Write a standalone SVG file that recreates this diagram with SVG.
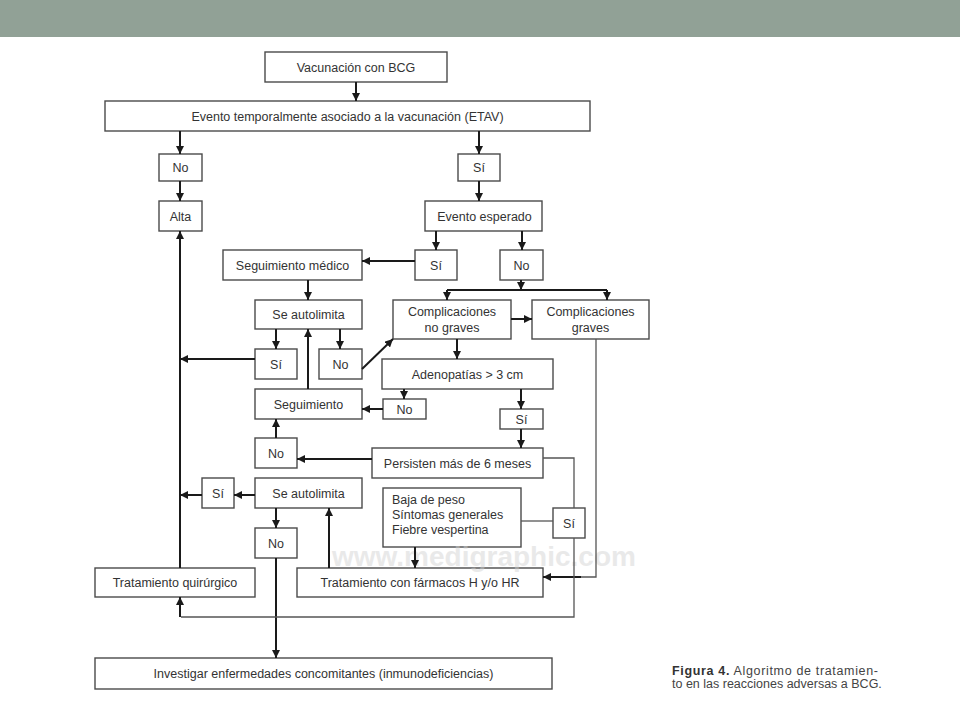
<svg xmlns="http://www.w3.org/2000/svg" width="960" height="720" viewBox="0 0 960 720">
<style>
.box{fill:#fff;stroke:#4a4a4a;stroke-width:1.4}
.t{font-family:"Liberation Sans",Arial,sans-serif;font-size:12.5px;fill:#333;text-anchor:middle}
.tl{font-family:"Liberation Sans",Arial,sans-serif;font-size:12.5px;fill:#333}
.a{stroke:#1a1a1a;stroke-width:2;fill:none;marker-end:url(#ah)}
.k{stroke:#1a1a1a;stroke-width:2;fill:none}
.l{stroke:#555;stroke-width:1.3;fill:none}
.cap{font-family:"Liberation Sans",Arial,sans-serif;font-size:12.5px;fill:#444}
.wm{font-family:"Liberation Sans",Arial,sans-serif;font-size:28px;font-weight:bold;fill:#d0d0d0;opacity:0.45}
</style>
<defs>
<marker id="ah" viewBox="0 0 10 10" refX="10" refY="5" markerWidth="8" markerHeight="8" markerUnits="userSpaceOnUse" orient="auto">
<path d="M0,0 L10,5 L0,10 z" fill="#1a1a1a"/>
</marker>
</defs>
<rect x="0" y="0" width="960" height="37" fill="#91a196"/>

<g id="n1"><rect class="box" x="265" y="52" width="182" height="30"/><text class="t" x="356" y="71.5">Vacunación con BCG</text></g>
<g id="n2"><rect class="box" x="105" y="101" width="485" height="30"/><text class="t" x="347.5" y="120.5">Evento temporalmente asociado a la vacunación (ETAV)</text></g>
<g id="n3"><rect class="box" x="159" y="154" width="43" height="27"/><text class="t" x="180.5" y="172">No</text></g>
<g id="n4"><rect class="box" x="159" y="201" width="43" height="30"/><text class="t" x="180.5" y="220.5">Alta</text></g>
<g id="n5"><rect class="box" x="458" y="154" width="42" height="27"/><text class="t" x="479" y="172">Sí</text></g>
<g id="n6"><rect class="box" x="425" y="201" width="117" height="30"/><text class="t" x="484.5" y="220.5">Evento esperado</text></g>
<g id="n7"><rect class="box" x="223" y="250" width="139" height="30"/><text class="t" x="292.5" y="269.5">Seguimiento médico</text></g>
<g id="n8"><rect class="box" x="415" y="250" width="42" height="30"/><text class="t" x="436" y="269.5">Sí</text></g>
<g id="n9"><rect class="box" x="500" y="250" width="43" height="30"/><text class="t" x="521.5" y="269.5">No</text></g>
<g id="n10"><rect class="box" x="255" y="300" width="107" height="29"/><text class="t" x="308.5" y="319">Se autolimita</text></g>
<g id="n11"><rect class="box" x="393" y="300" width="118" height="39"/><text class="t" x="452" y="315.5">Complicaciones</text><text class="t" x="452" y="331.5">no graves</text></g>
<g id="n12"><rect class="box" x="532" y="300" width="117" height="39"/><text class="t" x="590.5" y="315.5">Complicaciones</text><text class="t" x="590.5" y="331.5">graves</text></g>
<g id="n13"><rect class="box" x="255" y="349" width="42" height="30"/><text class="t" x="276" y="368.5">Sí</text></g>
<g id="n14"><rect class="box" x="319" y="349" width="43" height="30"/><text class="t" x="340.5" y="368.5">No</text></g>
<g id="n15"><rect class="box" x="382" y="359" width="171" height="30"/><text class="t" x="467.5" y="378.5">Adenopatías &gt; 3 cm</text></g>
<g id="n16"><rect class="box" x="255" y="389" width="107" height="30"/><text class="t" x="308.5" y="408.5">Seguimiento</text></g>
<g id="n17"><rect class="box" x="383" y="399" width="43" height="20"/><text class="t" x="404.5" y="413.5">No</text></g>
<g id="n18"><rect class="box" x="500" y="409" width="43" height="20"/><text class="t" x="521.5" y="423.5">Sí</text></g>
<g id="n19"><rect class="box" x="255" y="438" width="42" height="30"/><text class="t" x="276" y="457.5">No</text></g>
<g id="n20"><rect class="box" x="372" y="448" width="171" height="30"/><text class="t" x="457.5" y="467.5">Persisten más de 6 meses</text></g>
<g id="n21"><rect class="box" x="202" y="478" width="32" height="30"/><text class="t" x="218" y="497.5">Sí</text></g>
<g id="n22"><rect class="box" x="255" y="478" width="107" height="30"/><text class="t" x="308.5" y="497.5">Se autolimita</text></g>
<g id="n23"><rect class="box" x="383" y="488" width="138" height="59"/><text class="tl" x="392" y="504">Baja de peso</text><text class="tl" x="392" y="519">Síntomas generales</text><text class="tl" x="392" y="534">Fiebre vespertina</text></g>
<g id="n24"><rect class="box" x="553" y="508" width="32" height="30"/><text class="t" x="569" y="527.5">Sí</text></g>
<g id="n25"><rect class="box" x="255" y="528" width="42" height="30"/><text class="t" x="276" y="547.5">No</text></g>
<g id="n26"><rect class="box" x="95" y="568" width="160" height="29"/><text class="t" x="175" y="587">Tratamiento quirúrgico</text></g>
<g id="n27"><rect class="box" x="297" y="568" width="246" height="29"/><text class="t" x="420" y="587">Tratamiento con fármacos H y/o HR</text></g>
<g id="n28"><rect class="box" x="95" y="658" width="457" height="31"/><text class="t" x="323.5" y="678">Investigar enfermedades concomitantes (inmunodeficiencias)</text></g>

<text class="wm" x="332" y="566">www.medigraphic.com</text>

<g id="connectors">
<path class="a" d="M356,82 V101"/>
<path class="a" d="M180,131 V154"/>
<path class="a" d="M479,131 V154"/>
<path class="a" d="M180,181 V201"/>
<path class="a" d="M479,181 V201"/>
<path class="a" d="M436,231 V250"/>
<path class="a" d="M522,231 V250"/>
<path class="a" d="M415,261 H362"/>
<path class="a" d="M308,280 V300"/>
<path class="a" d="M276,329 V349"/>
<path class="a" d="M340,329 V349"/>
<path class="a" d="M255,359 H180"/>
<path class="a" d="M308,389 V329"/>
<path class="a" d="M362,369 L393,339"/>
<path class="a" d="M521,280 V290"/>
<path class="k" d="M447,290 H607"/>
<path class="a" d="M447,290 V300"/>
<path class="a" d="M607,290 V300"/>
<path class="a" d="M511,319 H532"/>
<path class="a" d="M457,339 V359"/>
<path class="a" d="M404,389 V399"/>
<path class="a" d="M521,389 V409"/>
<path class="a" d="M383,409 H362"/>
<path class="a" d="M521,429 V448"/>
<path class="a" d="M372,459 H297"/>
<path class="a" d="M276,438 V419"/>
<path class="a" d="M255,495 H234"/>
<path class="a" d="M202,495 H180"/>
<path class="a" d="M276,508 V528"/>
<path class="a" d="M276,558 V658"/>
<path class="a" d="M329,568 V508"/>
<path class="a" d="M415,547 V568"/>
<path class="a" d="M180,568 V231"/>
<path class="l" d="M596,339 V577 H580"/>
<path class="a" d="M581,577 H543"/>
<path class="l" d="M543,458 H574 V508"/>
<path class="l" d="M574,538 V617 H181"/>
<path class="a" d="M180,617 V597"/>
<path class="l" d="M521,521 H553"/>
</g>

<g id="caption">
<text class="cap" x="672" y="675" textLength="206" lengthAdjust="spacing"><tspan font-weight="bold" fill="#333">Figura 4.</tspan> Algoritmo de tratamien-</text>
<text class="cap" x="672" y="688">to en las reacciones adversas a BCG.</text>
</g>
</svg>
